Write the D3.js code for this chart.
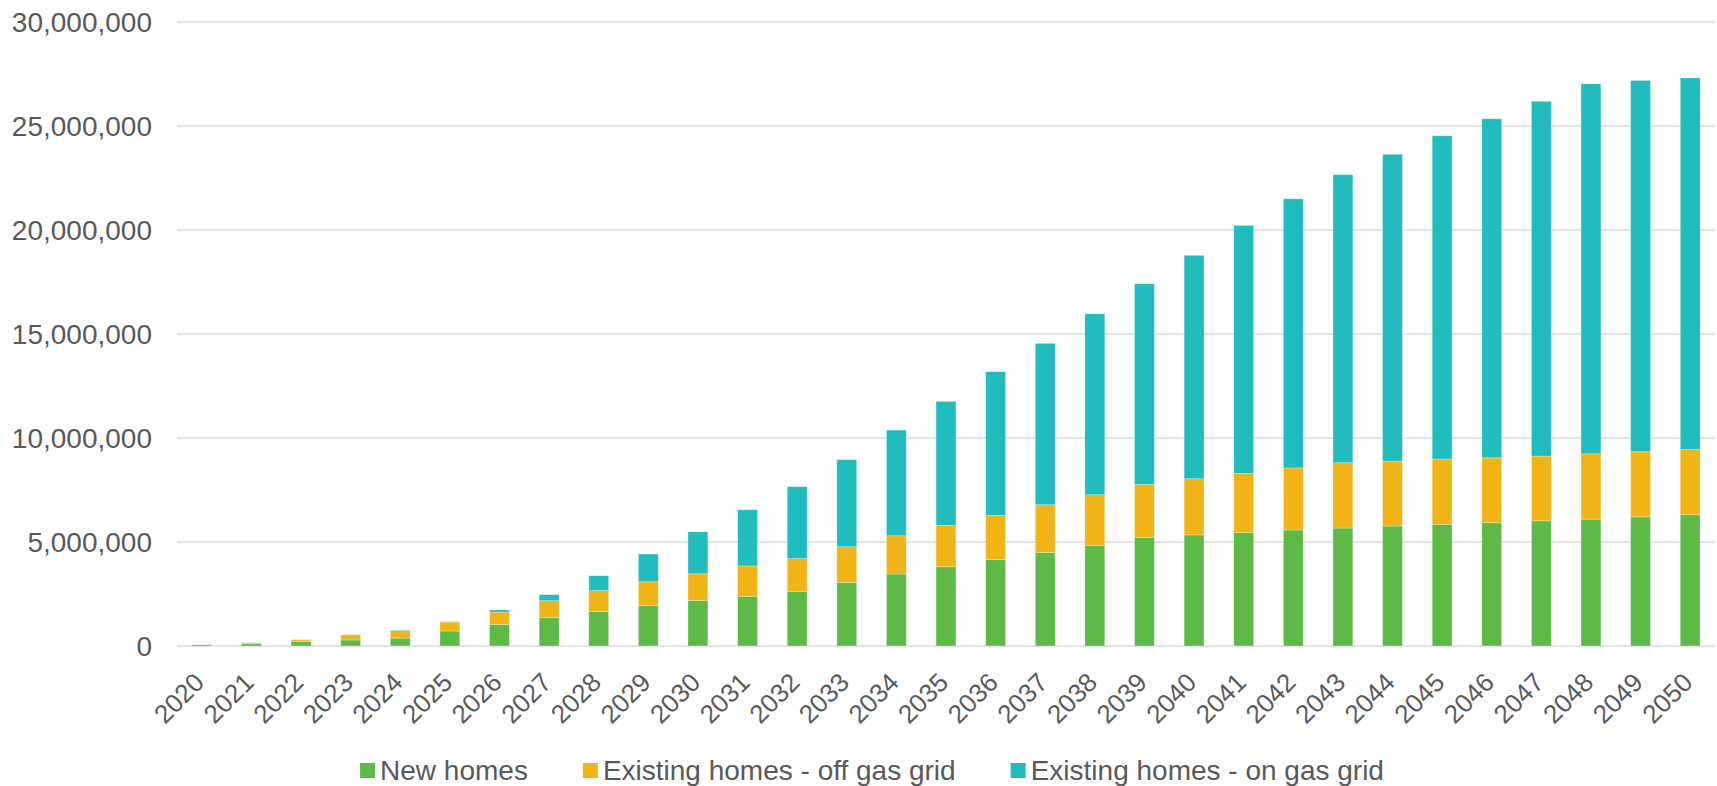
<!DOCTYPE html>
<html>
<head>
<meta charset="utf-8">
<script src="https://cdn.jsdelivr.net/npm/d3@7"></script>
<style>
  body { margin: 0; background: #fff; }
  svg text { font-family: "Liberation Sans", Arial, sans-serif; fill: #595959; }
</style>
</head>
<body>
<svg id="chart"></svg>
<script>
// data
var years = ["2020","2021","2022","2023","2024","2025","2026","2027","2028","2029","2030",
             "2031","2032","2033","2034","2035","2036","2037","2038","2039","2040",
             "2041","2042","2043","2044","2045","2046","2047","2048","2049","2050"];
var seriesNames = ["New homes", "Existing homes - off gas grid", "Existing homes - on gas grid"];
var newHomes = [60000, 110000, 210000, 290000, 380000, 720000, 1040000, 1360000, 1660000, 1940000, 2190000,
                2390000, 2630000, 3060000, 3460000, 3810000, 4150000, 4500000, 4840000, 5220000, 5340000,
                5460000, 5580000, 5670000, 5770000, 5850000, 5930000, 6020000, 6100000, 6210000, 6310000];
var offGrid = [10000, 50000, 90000, 250000, 360000, 430000, 590000, 820000, 1000000, 1150000, 1280000,
               1460000, 1570000, 1710000, 1840000, 1990000, 2130000, 2290000, 2430000, 2550000, 2700000,
               2840000, 2980000, 3140000, 3120000, 3140000, 3120000, 3110000, 3140000, 3130000, 3130000];
var onGrid = [5000, 5000, 10000, 10000, 30000, 20000, 100000, 290000, 720000, 1330000, 2020000,
              2700000, 3460000, 4190000, 5080000, 5960000, 6910000, 7760000, 8700000, 9650000, 10740000,
              11920000, 12940000, 13850000, 14750000, 15540000, 16300000, 17060000, 17790000, 17850000, 17870000];
var yTicks = [0, 5000000, 10000000, 15000000, 20000000, 25000000, 30000000];

// basic settings
var width = 1717, height = 786;
var margin = {top: 22, right: 2, bottom: 140, left: 177};
var colors = ["#5EBA47", "#F1B417", "#21BCBE"];

var svg = d3.select("#chart").attr("width", width).attr("height", height);

var rows = years.map(function(y, i) {
  return {year: y, a: newHomes[i], b: offGrid[i], c: onGrid[i]};
});
var stack = d3.stack().keys(["a", "b", "c"]);
var layers = stack(rows);

var x = d3.scaleBand().domain(years)
  .range([margin.left, width - margin.right])
  .paddingInner(0.6).paddingOuter(0.3);
var y = d3.scaleLinear().domain([0, 30000000]).range([height - margin.bottom, margin.top]);

// gridlines
svg.append("g").selectAll("line")
  .data(yTicks).enter().append("line")
  .attr("x1", margin.left).attr("x2", width - margin.right)
  .attr("y1", function(d) { return y(d); }).attr("y2", function(d) { return y(d); })
  .attr("stroke", "#d9d9d9").attr("stroke-width", 1.3);

// y labels
var fmt = d3.format(",");
svg.append("g").selectAll("text")
  .data(yTicks).enter().append("text")
  .attr("x", 152).attr("y", function(d) { return y(d); })
  .attr("dy", "0.35em").attr("text-anchor", "end")
  .style("font-size", "28px")
  .text(function(d) { return fmt(d); });

// bars
var g = svg.append("g").selectAll("g")
  .data(layers).enter().append("g")
  .attr("fill", function(d, i) { return colors[i]; });
g.selectAll("rect")
  .data(function(d) { return d; }).enter().append("rect")
  .attr("x", function(d) { return x(d.data.year); })
  .attr("width", x.bandwidth())
  .attr("y", function(d) { return y(d[1]); })
  .attr("height", function(d) { return y(d[0]) - y(d[1]); })
  .attr("stroke", "#ffffff").attr("stroke-opacity", 0.35).attr("stroke-width", 0.8);

// x labels
svg.append("g").selectAll("text")
  .data(years).enter().append("text")
  .attr("transform", function(d) {
    return "translate(" + (x(d) + x.bandwidth() / 2 + 4) + "," + 684 + ") rotate(-45)";
  })
  .attr("text-anchor", "end")
  .style("font-size", "26px")
  .text(function(d) { return d; });

// legend
var legend = svg.append("g").attr("class", "legend");
var lx = 0;
seriesNames.forEach(function(name, i) {
  legend.append("rect")
    .attr("x", lx).attr("y", 763).attr("width", 15).attr("height", 15)
    .attr("fill", colors[i]);
  var t = legend.append("text")
    .attr("x", lx + 20).attr("y", 780)
    .style("font-size", "28px")
    .text(name);
  lx += 20 + t.node().getComputedTextLength() + 55;
});
var lw = lx - 55;
legend.attr("transform", "translate(" + (872 - lw / 2) + ",0)");
</script>
</body>
</html>
